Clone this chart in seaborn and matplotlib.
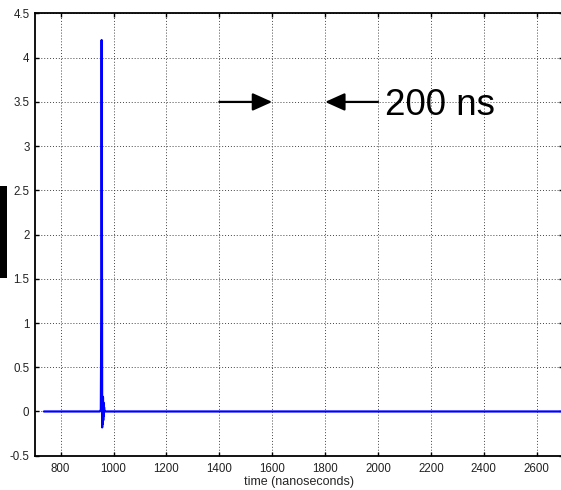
import matplotlib
matplotlib.use("Agg")
import matplotlib.pyplot as plt
import seaborn as sns
import pandas as pd
from matplotlib.patches import Rectangle

# ---- data ----
time_ns = [737, 900, 948, 952, 954, 955, 956, 957, 958, 959, 960, 961, 962, 963, 964, 966, 970, 1000, 1500, 2000, 2500, 2690]
amplitude = [0.0, 0.0, 0.0, 0.02, 1.2, 4.2, 2.0, -0.18, 0.17, -0.14, 0.16, -0.10, 0.10, -0.05, 0.05, 0.0, 0.0, 0.0, 0.0, 0.0, 0.0, 0.0]
x_ticks = [800, 1000, 1200, 1400, 1600, 1800, 2000, 2200, 2400, 2600]
y_ticks = [-0.5, 0, 0.5, 1, 1.5, 2, 2.5, 3, 3.5, 4, 4.5]
y_ticklabels = ["-0.5", "0", "0.5", "1", "1.5", "2", "2.5", "3", "3.5", "4", "4.5"]
x_label = "time (nanoseconds)"
annot_text = "200 ns"
arrow_right = (1400, 1600)
arrow_left = (2000, 1800)
arrow_y = 3.5

df = pd.DataFrame({"t": time_ns, "v": amplitude})

sns.set_theme(style="white")
plt.rcParams["font.family"] = ["Liberation Sans", "DejaVu Sans"]

W, H = 561, 490
fig = plt.figure(figsize=(W / 100, H / 100), dpi=100)
left_px, right_px, top_px, bottom_px = 35, 563.1, 13.5, 455.7
ax = fig.add_axes([left_px / W, 1 - bottom_px / H, (right_px - left_px) / W, (bottom_px - top_px) / H])

sns.lineplot(data=df, x="t", y="v", ax=ax, color="#0000ff", lw=1.6,
             estimator=None, sort=False)

ax.set_xlim(703, 2700)
ax.set_ylim(-0.5, 4.5)
ax.set_xticks(x_ticks)
ax.set_xticklabels([str(t) for t in x_ticks])
ax.set_yticks(y_ticks)
ax.set_yticklabels(y_ticklabels)
ax.set_xlabel(x_label, fontsize=9, labelpad=1)
ax.set_ylabel("")

ax.grid(True, color="#444444", linestyle=(0, (1, 2)), linewidth=0.7)
ax.set_axisbelow(True)
for side in ["left", "bottom", "top", "right"]:
    ax.spines[side].set_visible(True)
    ax.spines[side].set_color("black")
    ax.spines[side].set_linewidth(1.3)

ax.tick_params(axis="both", direction="in", length=3, width=1, color="black",
               labelsize=8.3, labelcolor="#222222", top=True, right=True,
               bottom=True, left=True)
ax.tick_params(axis="x", pad=5)
ax.tick_params(axis="y", pad=4)

ap = dict(arrowstyle="-|>,head_length=0.6,head_width=0.27", lw=1.6, color="black",
          shrinkA=0, shrinkB=0, mutation_scale=20)
ax.annotate("", xy=(arrow_right[1], arrow_y), xytext=(arrow_right[0], arrow_y), arrowprops=ap)
ax.annotate("", xy=(arrow_left[1], arrow_y), xytext=(arrow_left[0], arrow_y), arrowprops=ap)
ax.text(2026, 3.46, annot_text, fontsize=26.5, ha="left", va="center", color="black")

# redacted y-axis label block
fig.patches.append(Rectangle((0, 1 - 278 / H), 7 / W, 92 / H, transform=fig.transFigure,
                             facecolor="black", edgecolor="none"))

fig.savefig("out.png", dpi=100)
